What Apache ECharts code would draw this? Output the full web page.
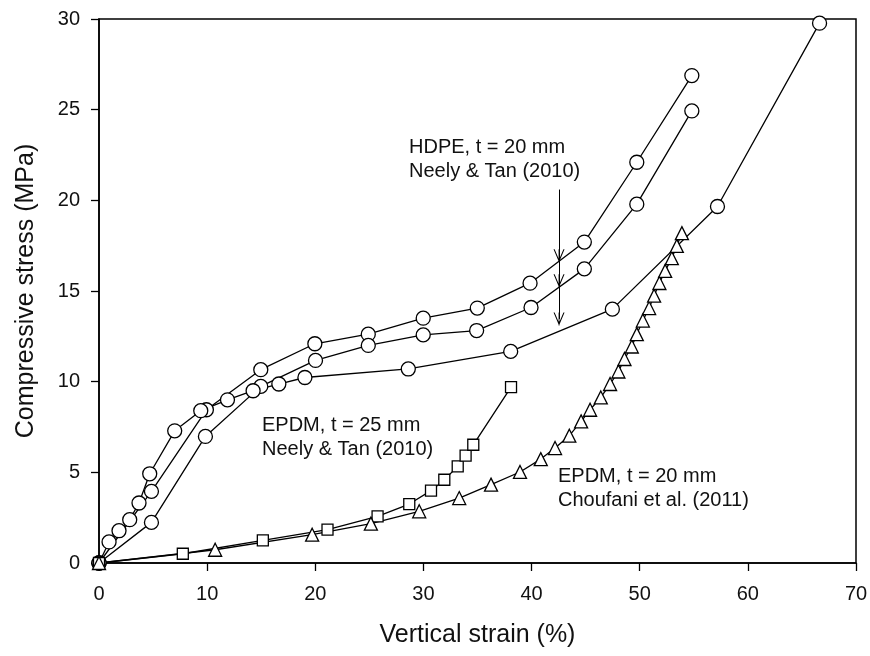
<!DOCTYPE html>
<html>
<head>
<meta charset="utf-8">
<script src="https://cdn.jsdelivr.net/npm/echarts@6/dist/echarts.min.js"></script>
<style>
    html, body { margin: 0; padding: 0; background: #fff; }
    #chart { width: 870px; height: 656px; }
</style>
</head>
<body>
<div id="chart"></div>
<script>
// HDPE, t = 20 mm, Neely & Tan (2010) - three tests
let hdpeTop = [[0,0],[4.85,3.95],[9.93,8.45],[14.96,10.66],[19.96,12.09],[24.9,12.62],[29.98,13.5],[34.98,14.06],[39.86,15.43],[44.88,17.7],[49.73,22.1],[54.82,26.88]];
let hdpeMid = [[0,0],[4.85,2.24],[9.84,6.98],[14.96,9.74],[20.02,11.17],[24.9,12.0],[29.98,12.58],[34.92,12.82],[39.95,14.09],[44.88,16.22],[49.73,19.79],[54.82,24.93]];
let hdpeLow = [[0,0],[0.93,1.16],[1.85,1.78],[2.84,2.39],[3.7,3.31],[4.69,4.92],[7.0,7.29],[9.41,8.4],[11.88,9.0],[14.25,9.5],[16.63,9.87],[19.04,10.23],[28.6,10.7],[38.07,11.67],[47.47,14.0],[57.19,19.66],[66.63,29.77]];
// EPDM, t = 25 mm, Neely & Tan (2010)
let epdm25 = [[0,0],[7.75,0.51],[15.15,1.25],[21.13,1.84],[25.76,2.57],[28.69,3.25],[30.7,3.99],[31.93,4.59],[33.17,5.33],[33.9,5.92],[34.61,6.52],[38.1,9.7]];
// EPDM, t = 20 mm, Choufani et al. (2011)
let epdm20 = [[0,0],[10.74,0.73],[19.71,1.56],[25.14,2.17],[29.61,2.85],[33.31,3.58],[36.25,4.32],[38.93,5.02],[40.85,5.73],[42.17,6.34],[43.49,7.02],[44.58,7.81],[45.41,8.45],[46.4,9.13],[47.26,9.87],[48.03,10.56],[48.59,11.25],[49.27,11.94],[49.73,12.62],[50.29,13.37],[50.87,14.06],[51.33,14.74],[51.82,15.44],[52.35,16.11],[52.97,16.81],[53.43,17.49],[53.9,18.19]];

// arrow pointing at the HDPE curves: x, top y, and the three tip heights
let arrowX = 42.54;
let arrowTop = 20.58;
let arrowTips = [16.95, 15.57, 13.46];

let FONT = '"Liberation Sans", Arial, sans-serif';
let openArrow = 'path://M5,0 L10,12 L9,12 L5,2.4 L1,12 L0,12 Z M4.6,0 L5.4,0 L5.4,12 L4.6,12 Z';

function makeSeries(name, data, symbol, size){
    return {
        name: name,
        type: 'line',
        data: data,
        symbol: symbol,
        symbolSize: size,
        showAllSymbol: true,
        clip: false,
        animation: false,
        lineStyle: { color: '#000', width: 1.3 },
        itemStyle: { color: '#fff', borderColor: '#000', borderWidth: 1.3 }
    };
}

let series = [
    makeSeries('HDPE top', hdpeTop, 'circle', 14),
    makeSeries('HDPE mid', hdpeMid, 'circle', 14),
    makeSeries('HDPE low', hdpeLow, 'circle', 14),
    makeSeries('EPDM 25', epdm25, 'rect', 11),
    makeSeries('EPDM 20', epdm20, 'triangle', 13)
];

series[2].markLine = {
    silent: true,
    animation: false,
    symbol: ['none', openArrow],
    symbolSize: [11, 13],
    label: { show: false },
    lineStyle: { color: '#000', width: 1, type: 'solid' },
    data: arrowTips.map(function(t){
        return [{ coord: [arrowX, arrowTop] }, { coord: [arrowX, t] }];
    })
};

let myChart = echarts.init(document.getElementById('chart'));
myChart.setOption({
    backgroundColor: '#fff',
    animation: false,
    grid: {
        left: 99,
        right: 14,
        top: 19,
        bottom: 93,
        containLabel: false,
        outerBoundsMode: 'none',
        show: true,
        borderColor: '#000',
        borderWidth: 1.5
    },
    xAxis: {
        type: 'value',
        min: 0,
        max: 70,
        interval: 10,
        name: 'Vertical strain (%)',
        nameLocation: 'middle',
        nameGap: 60,
        nameTextStyle: { fontFamily: FONT, fontSize: 25, color: '#111' },
        splitLine: { show: false },
        axisLine: { show: true, onZero: false, lineStyle: { color: '#000', width: 1.5 } },
        axisTick: { show: true, inside: false, length: 8, lineStyle: { color: '#000', width: 1.3 } },
        axisLabel: { fontFamily: FONT, fontSize: 20, color: '#111', margin: 21 }
    },
    yAxis: {
        type: 'value',
        min: 0,
        max: 30,
        interval: 5,
        name: 'Compressive stress (MPa)',
        nameLocation: 'middle',
        nameGap: 60,
        nameTextStyle: { fontFamily: FONT, fontSize: 25, color: '#111' },
        splitLine: { show: false },
        axisLine: { show: true, onZero: false, lineStyle: { color: '#000', width: 1.5 } },
        axisTick: { show: true, inside: false, length: 8, lineStyle: { color: '#000', width: 1.3 } },
        axisLabel: { fontFamily: FONT, fontSize: 20, color: '#111', margin: 19 }
    },
    graphic: [
        {
            type: 'text', left: 409, top: 135, silent: true,
            style: { text: 'HDPE, t = 20 mm\nNeely & Tan (2010)', font: '20px ' + FONT, fill: '#111', lineHeight: 24 }
        },
        {
            type: 'text', left: 262, top: 413, silent: true,
            style: { text: 'EPDM, t = 25 mm\nNeely & Tan (2010)', font: '20px ' + FONT, fill: '#111', lineHeight: 24 }
        },
        {
            type: 'text', left: 558, top: 464, silent: true,
            style: { text: 'EPDM, t = 20 mm\nChoufani et al. (2011)', font: '20px ' + FONT, fill: '#111', lineHeight: 24 }
        }
    ],
    series: series
});
</script>
</body>
</html>
